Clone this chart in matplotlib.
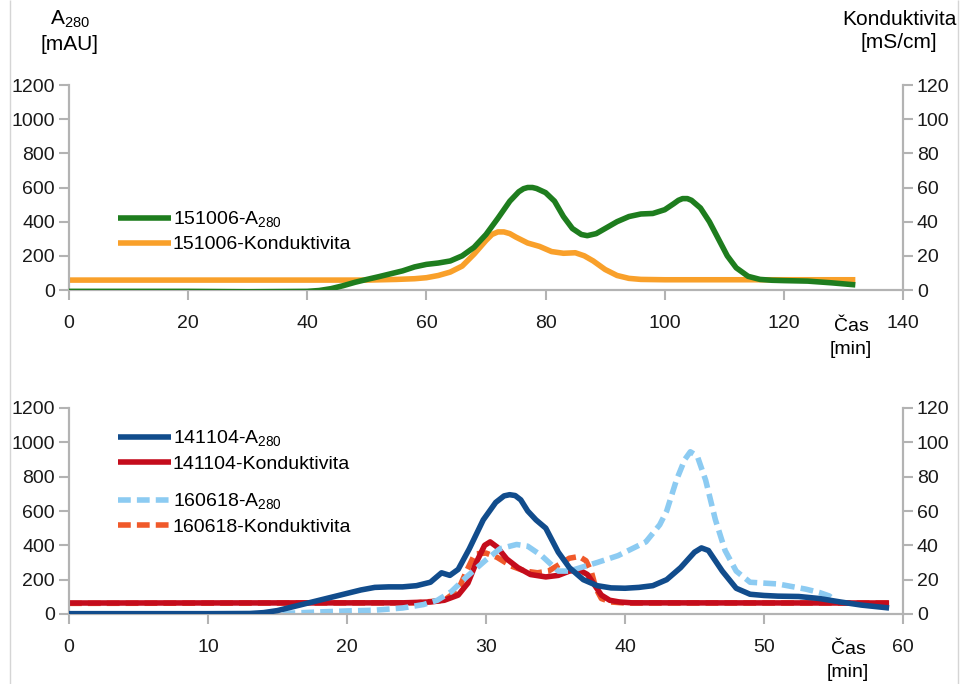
import numpy as np
import matplotlib.pyplot as plt
from matplotlib.lines import Line2D

plt.rcParams['font.family'] = ['Liberation Sans', 'DejaVu Sans']
plt.rcParams['mathtext.fontset'] = 'custom'
plt.rcParams['mathtext.rm'] = 'Liberation Sans'
plt.rcParams['font.size'] = 14
plt.rcParams['lines.solid_joinstyle'] = 'round'
plt.rcParams['lines.solid_capstyle'] = 'butt'

#-----------------------------------------------------------------------------
# data

# 151006 run (top)
t_151006_a = [0, 10, 20, 30, 40, 42, 44, 46, 48, 50, 52, 54, 56, 58, 60, 62, 64, 66, 68, 70,
              72, 74, 75.5, 76.3, 77, 77.8, 78.5, 80, 81.5, 83, 84.5, 86, 87, 88.5, 90, 92, 94,
              96, 98, 100, 101.5, 102.3, 103, 103.8, 104.5, 106, 107.5, 109, 110.5, 112, 114,
              116, 118, 120, 124, 128, 132]
a_151006 = [-8, -8, -8, -10, -8, -3, 8, 25, 45, 62, 78, 95, 112, 135, 150, 158, 170, 200, 250, 325,
            420, 520, 575, 593, 600, 600, 594, 570, 520, 430, 360, 325, 318, 330, 360, 400, 430,
            445, 448, 470, 505, 525, 535, 535, 525, 480, 400, 300, 200, 130, 80, 62, 57, 55, 52,
            42, 30]
t_151006_k = [0, 50, 55, 58, 60, 62, 64, 66, 68, 70, 71, 72, 73, 74, 75, 77, 79, 81, 83, 85,
              86.5, 88, 90, 92, 94, 96, 100, 132]
k_151006 = [5.8, 5.8, 6.2, 6.6, 7.2, 8.5, 10.5, 14, 21, 29, 32.5, 34, 34, 33, 31, 27.5, 25.5,
            22.5, 21.5, 21.8, 20, 17, 12, 8.5, 6.8, 6.2, 6, 6]

# 141104 run (bottom)
t_141104_a = [0, 5, 10, 13, 14, 15, 16, 17, 18, 19, 20, 21, 22, 23, 24, 25, 26, 26.8, 27.4, 28,
              28.8, 29.8, 30.7, 31.3, 31.7, 32.1, 32.5, 33, 33.6, 34.3, 35.2, 36, 37, 38, 39, 40,
              41, 42, 43, 44, 45, 45.5, 46, 47, 48, 49, 50, 51, 52.5, 54, 55.5, 57, 59]
a_141104 = [2, 2, 2, 3, 8, 20, 40, 60, 80, 100, 120, 140, 155, 158, 158, 165, 185, 240, 225, 260,
            380, 548, 650, 688, 695, 690, 665, 600, 548, 500, 360, 270, 200, 165, 152, 150, 155,
            165, 200, 270, 360, 385, 370, 250, 150, 115, 108, 104, 102, 90, 70, 52, 35]
t_141104_k = [0, 24, 26, 27, 28, 28.7, 29.3, 29.9, 30.3, 30.8, 31.5, 32.3, 33.2, 34.3, 35.2, 36,
              36.7, 37.3, 37.8, 38.3, 38.9, 39.6, 40.5, 59]
k_141104 = [6.4, 6.5, 7, 8, 11, 18, 30, 40, 42, 39, 32, 27, 23, 21.6, 22.5, 25, 25.7, 23, 17, 11,
            8, 7, 6.5, 6.4]

# 160618 run (bottom, dashed)
t_160618_a = [14, 16, 18, 20, 22, 24, 25.5, 26.5, 27.5, 28.6, 30, 31, 32.2, 33, 34, 35.2, 36, 37,
              38, 39.5, 41.5, 42.5, 43, 43.7, 44.3, 44.7, 45.2, 45.8, 46.5, 47.2, 48, 49, 50, 51,
              52, 53, 54, 54.7, 55]
a_160618 = [0, 5, 12, 18, 22, 35, 55, 80, 130, 216, 315, 380, 405, 395, 340, 250, 250, 275, 300,
            340, 420, 520, 600, 780, 900, 945, 920, 780, 550, 370, 250, 185, 180, 175, 160, 145,
            125, 105, 85]
t_160618_k = [0, 25, 27, 28, 28.6, 29.2, 30, 30.8, 31.8, 32.8, 33.7, 34.5, 35.3, 36, 36.7, 37.2,
              37.6, 37.9, 38.3, 39, 40, 59]
k_160618 = [6.2, 6.5, 8, 14, 25, 35, 35.5, 33, 28, 25, 24, 25, 29, 32.5, 33.5, 31, 24, 15, 9, 7,
            6.4, 6.4]

#-----------------------------------------------------------------------------

grey = '#b3b3b3'
W, H = 962, 684
LW = 4
DASH = (0, (2.3, 1.1))
fig = plt.figure(figsize=(W / 100, H / 100), dpi=100)


def rect(x0, x1, ytop, ybot):
    return [x0 / W, 1 - ybot / H, (x1 - x0) / W, (ybot - ytop) / H]


def style(ax, ax2, xmax, xstep):
    ax.set_xlim(0, xmax)
    ax.set_ylim(0, 1200)
    ax.set_xticks(np.arange(0, xmax + 1, xstep))
    ax.set_yticks(np.arange(0, 1201, 200))
    ax2.set_ylim(0, 120)
    ax2.set_yticks(np.arange(0, 121, 20))
    for a in (ax, ax2):
        a.spines['top'].set_visible(False)
        for s in a.spines.values():
            s.set_color(grey)
            s.set_linewidth(1.5)
        a.tick_params(colors=grey, labelcolor='#1a1a1a', width=1.5, length=7, labelsize=14)
    ax.tick_params(axis='x', pad=11)
    ax.tick_params(axis='y', pad=3)
    ax2.tick_params(axis='y', pad=3)


legkw = dict(loc='upper left', frameon=False, handlelength=2.7, handletextpad=0.1,
             labelspacing=0.3, fontsize=14, borderaxespad=0)

# top panel
ax = fig.add_axes(rect(69, 903, 85, 290))
ax2 = ax.twinx()
style(ax, ax2, 140, 20)
l1, = ax.plot(t_151006_a, a_151006, color='#1e7d1e', lw=LW, zorder=3)
l2, = ax2.plot(t_151006_k, k_151006, color='#f9a02a', lw=LW, zorder=2)
ax.set_zorder(ax2.get_zorder() + 1)
ax.patch.set_visible(False)
ax.legend([l1, l2], ['151006-A$_{\\mathregular{280}}$', '151006-Konduktivita'],
          bbox_to_anchor=(0.05, 0.43), **legkw)

# bottom panel
bx = fig.add_axes(rect(69, 903, 408, 614))
bx2 = bx.twinx()
style(bx, bx2, 60, 10)
b1, = bx.plot(t_141104_a, a_141104, color='#114c8c', lw=LW, zorder=3)
b3, = bx.plot(t_160618_a, a_160618, color='#8ccbf2', lw=LW, ls=DASH, zorder=2)
b4, = bx2.plot(t_160618_k, k_160618, color='#f0592a', lw=LW, ls=DASH, zorder=2)
b2, = bx2.plot(t_141104_k, k_141104, color='#c40c1c', lw=LW, zorder=3)
bx.set_zorder(bx2.get_zorder() + 1)
bx.patch.set_visible(False)
leg1 = bx.legend([b1, b2], ['141104-A$_{\\mathregular{280}}$', '141104-Konduktivita'],
                 bbox_to_anchor=(0.05, 0.937), **legkw)
bx.add_artist(leg1)
bx.legend([b3, b4], ['160618-A$_{\\mathregular{280}}$', '160618-Konduktivita'],
          bbox_to_anchor=(0.05, 0.631), **legkw)

# axis titles
fig.text(70 / W, 1 - 31 / H, 'A$_{\\mathregular{280}}$\n[mAU]', ha='center', va='center',
         fontsize=15, linespacing=1.3)
fig.text(899 / W, 1 - 31 / H, 'Konduktivita\n[mS/cm]', ha='center', va='center',
         fontsize=15, linespacing=1.3)
fig.text(851 / W, 1 - 338 / H, 'Čas\n[min]', ha='center', va='center', fontsize=14,
         linespacing=1.45)
fig.text(848 / W, 1 - 661 / H, 'Čas\n[min]', ha='center', va='center', fontsize=14,
         linespacing=1.45)

# thin frame lines at image edges
for xe in (9.5, 958.5):
    fig.add_artist(Line2D([xe / W, xe / W], [0, 1], transform=fig.transFigure,
                          color='#d5d5d5', lw=1))

fig.savefig('out.png', dpi=100)
